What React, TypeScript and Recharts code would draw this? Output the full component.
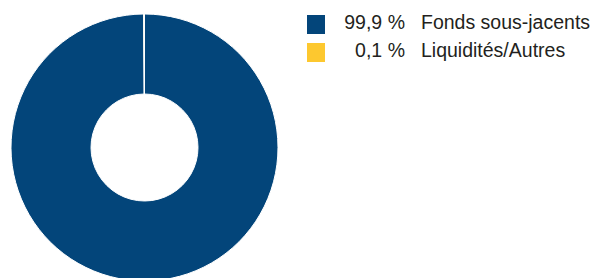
import React from 'react'
import { PieChart, Pie, Cell, Legend } from 'recharts'

// allocation data
const LABELS = ['Fonds sous-jacents', 'Liquidités/Autres']
const VALUES = [99.9, 0.1]
const PCT_TEXT = ['99,9 %', '0,1 %']
const COLORS = ['#03457a', '#fdc82f']

const data = LABELS.map((name, i) => ({ name, value: VALUES[i] }))

const FONT = '"Liberation Sans", Arial, sans-serif'

function AllocLegend() {
  return (
    <div style={{ position: 'relative', width: 293, height: 60, fontFamily: FONT, fontSize: 19.5, color: '#231f20' }}>
      {data.map((d, i) => (
        <div key={d.name} style={{ position: 'absolute', left: 0, top: i * 27.7, height: 26, lineHeight: '26px', display: 'flex', whiteSpace: 'nowrap' }}>
          <span style={{ width: 18.5, height: 19, marginLeft: 6.7, marginTop: 5.7, background: COLORS[i], display: 'inline-block' }} />
          <span style={{ width: 79.8, textAlign: 'right', display: 'inline-block' }}>{PCT_TEXT[i]}</span>
          <span style={{ marginLeft: 16, display: 'inline-block' }}>{d.name}</span>
        </div>
      ))}
    </div>
  )
}

export default function App() {
  return (
    <div style={{ position: 'absolute', left: 0, top: 0, width: 593, height: 278, background: '#fff' }}>
      <PieChart width={593} height={278} margin={{ top: 0, right: 0, bottom: 0, left: 0 }}>
        <Pie
          data={data}
          dataKey="value"
          nameKey="name"
          cx={144.5}
          cy={147.5}
          innerRadius={53.5}
          outerRadius={133.5}
          startAngle={90}
          endAngle={-270}
          stroke="#fff"
          strokeWidth={1}
          isAnimationActive={false}
        >
          {data.map((d, i) => (
            <Cell key={d.name} fill={COLORS[i]} />
          ))}
        </Pie>
        <Legend content={<AllocLegend />} wrapperStyle={{ left: 300, top: 9.3, width: 293 }} />
      </PieChart>
    </div>
  )
}
